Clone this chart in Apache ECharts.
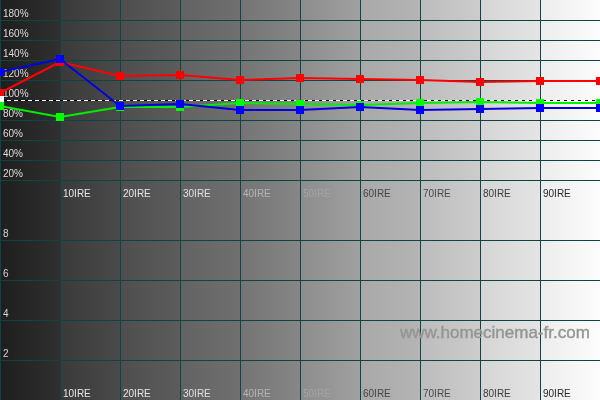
<!DOCTYPE html>
<html>
<head>
<meta charset="utf-8">
<script src="https://cdn.jsdelivr.net/npm/echarts@6/dist/echarts.min.js"></script>
<style>html,body{margin:0;padding:0;background:#fff}#c{width:600px;height:400px}</style>
</head>
<body>
<div id="c"></div>
<script>
// IRE levels (x)
const ire = [0, 10, 20, 30, 40, 50, 60, 70, 80, 90, 100];
// RGB balance (%)
const redVals   = [107, 138, 124, 125, 120, 122, 121, 120, 118, 119, 119];
const greenVals = [94, 83, 93, 93, 97, 96, 95, 97, 98, 97, 97];
const blueVals  = [128, 141, 94, 96, 90, 90, 93, 90, 91, 92, 92];
const whiteRef  = [[0, 100]];
const refLevel = 100;
// x tick label colours for 10IRE..90IRE
const xLabelColors = {10:'#e6e6e6',20:'#e6e6e6',30:'#e0e0e0',40:'#b4b4b4',50:'#a4a4a4',60:'#444444',70:'#4a4a4a',80:'#3c3c3c',90:'#2a2a2a'};

const teal = '#0e4444';
const font = 'Liberation Sans, Arial, sans-serif';

const bgStops = [];
const colLeft  = ['#1e1e1e','#3a3a3a','#4e4e4e','#626262','#747474','#8c8c8c','#a8a8a8','#bcbcbc','#d4d4d4','#ececec'];
const colRight = ['#303030','#4a4a4a','#5c5c5c','#707070','#868686','#a0a0a0','#b4b4b4','#cccccc','#e4e4e4','#fcfcfc'];
for (let i = 0; i < 10; i++) {
  bgStops.push({offset: i / 10, color: colLeft[i]});
  bgStops.push({offset: (i + 1) / 10 - 0.0001, color: colRight[i]});
}
const bg = new echarts.graphic.LinearGradient(0, 0, 1, 0, bgStops);

function pairs(vals){ return ire.map((x,i)=>[x, vals[i]]); }

function xAxisDef(gi){
  return {
    type:'value', gridIndex:gi, min:0, max:100, interval:10,
    axisLine:{show:false}, axisTick:{show:false},
    axisLabel:{inside:true, margin:1, align:'left', verticalAlign:'bottom', padding:[0,0,0,3],
      showMinLabel:false, showMaxLabel:false, fontFamily:font, fontSize:10,
      formatter:v=>v+'IRE', color:v=>xLabelColors[v]||'#ddd'},
    splitLine:{show:true, showMinLine:true, showMaxLine:false, lineStyle:{color:teal, width:1}}
  };
}

const option = {
  animation:false,
  backgroundColor:'#ffffff',
  grid:[
    {left:0, right:0, top:0, height:200, show:true, backgroundColor:bg, borderWidth:0},
    {left:0, right:0, top:200, height:200, show:true, backgroundColor:bg, borderWidth:0}
  ],
  xAxis:[xAxisDef(0), xAxisDef(1)],
  yAxis:[
    {type:'value', gridIndex:0, min:0, max:200, interval:20,
     axisLine:{show:false}, axisTick:{show:false},
     axisLabel:{inside:true, margin:3, verticalAlign:'bottom', padding:[0,0,1,0], showMinLabel:false, showMaxLabel:false,
       fontFamily:font, fontSize:10, color:'#dcdcdc', formatter:'{value}%'},
     splitLine:{show:true, showMinLine:false, showMaxLine:false, lineStyle:{color:teal, width:1}}},
    {type:'value', gridIndex:1, min:0, max:10, interval:2,
     axisLine:{show:false}, axisTick:{show:false},
     axisLabel:{inside:true, margin:3, verticalAlign:'bottom', padding:[0,0,1,0], showMinLabel:false, showMaxLabel:false,
       fontFamily:font, fontSize:10, color:'#d4d4d4'},
     splitLine:{show:true, showMinLine:false, showMaxLine:false, lineStyle:{color:teal, width:1}}}
  ],
  graphic:[{type:'text', right:10, top:325, style:{text:'www.homecinema-fr.com', font:'17px '+font, fill:'#959595', stroke:'#959595', lineWidth:0.4}, z:1}],
  series:[
    {type:'line', xAxisIndex:0, yAxisIndex:0, data:[], silent:true, z:3,
     markLine:{silent:true, symbol:'none', label:{show:false}, animation:false,
       data:[{yAxis:refLevel, lineStyle:{color:'#000', type:'solid', width:1}}]}},
    {type:'line', xAxisIndex:0, yAxisIndex:0, data:[], silent:true, z:3,
     markLine:{silent:true, symbol:'none', label:{show:false}, animation:false,
       data:[{yAxis:refLevel, lineStyle:{color:'#fff', type:[4,3], width:1}}]}},
    {name:'R', type:'line', xAxisIndex:0, yAxisIndex:0, data:pairs(redVals), symbol:'rect', symbolSize:8,
     lineStyle:{color:'#ff0000', width:2}, itemStyle:{color:'#ff0000'}, z:4, clip:false},
    {name:'W', type:'line', xAxisIndex:0, yAxisIndex:0, data:whiteRef, symbol:'rect', symbolSize:8,
     itemStyle:{color:'#ffffff'}, z:4, clip:false},
    {name:'G', type:'line', xAxisIndex:0, yAxisIndex:0, data:pairs(greenVals), symbol:'rect', symbolSize:8,
     lineStyle:{color:'#00ee00', width:2}, itemStyle:{color:'#00ff00'}, z:5, clip:false},
    {name:'B', type:'line', xAxisIndex:0, yAxisIndex:0, data:pairs(blueVals), symbol:'rect', symbolSize:8,
     lineStyle:{color:'#0000e0', width:2}, itemStyle:{color:'#0000ff'}, z:6, clip:false}
  ]
};
const chart = echarts.init(document.getElementById('c'), null, {renderer:'canvas'});
chart.setOption(option);
</script>
</body>
</html>
